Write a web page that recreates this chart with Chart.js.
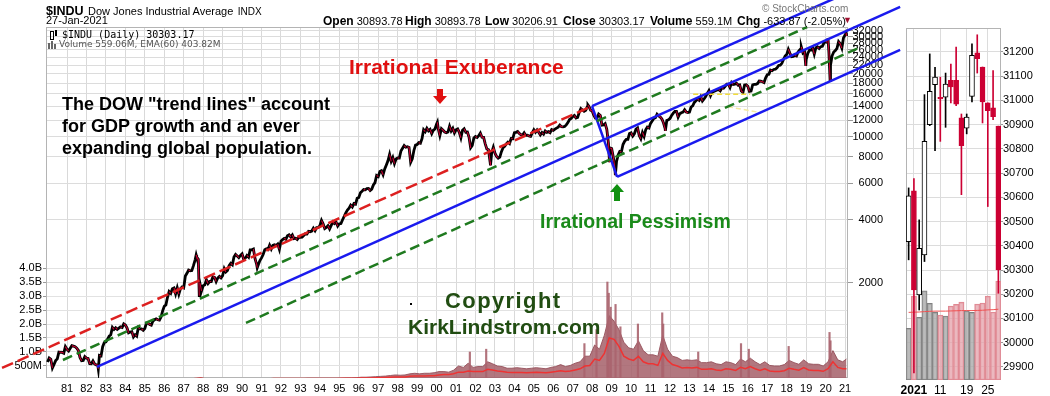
<!DOCTYPE html>
<html>
<head>
<meta charset="utf-8">
<script src="https://cdn.jsdelivr.net/npm/chart.js@4.4.0/dist/chart.umd.min.js"></script>
<style>
  body { margin: 0; background: #fff; font-family: "Liberation Sans", Arial, sans-serif; }
  #wrap { position: relative; width: 1050px; height: 396px; overflow: hidden; }
  canvas { position: absolute; top: 0; }
  #mainChart { left: 0; }
  #panelChart { left: 900px; }
  .t { position: absolute; white-space: nowrap; line-height: 1; }
  .q { position: absolute; white-space: nowrap; line-height: 1; top: 15px; font-size: 11px; }
  .q b { font-size: 12px; }
  .ann { font-weight: bold; }
  .arrow { position: absolute; }
</style>
</head>
<body>
<div id="wrap">
  <canvas id="mainChart" width="905" height="396"></canvas>
  <canvas id="panelChart" width="150" height="396"></canvas>

  <!-- header -->
  <div class="t" style="left:46px;top:2px;">
    <span style="font-weight:bold;font-size:12.5px;">$INDU</span>
    <span style="font-size:11px;">Dow Jones Industrial Average</span>
    <span style="font-size:10px;">INDX</span>
  </div>
  <div class="t" style="left:46px;top:15px;font-size:11px;">27-Jan-2021</div>
  <div class="q" style="left:323px;"><b>Open</b> 30893.78</div>
  <div class="q" style="left:405px;"><b>High</b> 30893.78</div>
  <div class="q" style="left:485px;"><b>Low</b> 30206.91</div>
  <div class="q" style="left:563px;"><b>Close</b> 30303.17</div>
  <div class="q" style="left:650px;"><b>Volume</b> 559.1M</div>
  <div class="q" style="left:737px;"><b>Chg</b> -633.87 (-2.05%)</div>
  <div class="t" style="left:843px;top:16px;font-size:9px;color:#a01030;">&#9660;</div>
  <div class="t" style="left:762px;top:4px;font-size:10px;color:#777;">&copy; StockCharts.com</div>

  <!-- plot labels with small icons -->
  <div class="arrow" style="left:50px;top:31px;width:2px;height:7px;border:1px solid #000;"></div>
  <div class="arrow" style="left:55px;top:30px;width:2px;height:6px;background:#000;"></div>
  <div class="arrow" style="left:48px;top:43px;width:2px;height:6px;background:#666;"></div>
  <div class="arrow" style="left:51px;top:41px;width:2px;height:8px;background:#666;"></div>
  <div class="arrow" style="left:54px;top:44px;width:2px;height:5px;background:#666;"></div>
  <div class="t" style="left:62px;top:30px;font-size:10px;font-family:'DejaVu Sans Mono',monospace;">$INDU (Daily) 30303.17</div>
  <div class="t" style="left:59px;top:40px;font-size:9px;font-family:'DejaVu Sans',sans-serif;color:#555;">Volume 559.06M, EMA(60) 403.82M</div>

  <!-- annotations -->
  <div class="t ann" style="left:349px;top:56px;font-size:21px;color:#e01010;">Irrational Exuberance</div>
  <div class="t ann" style="left:62px;top:93px;font-size:18px;line-height:22px;color:#000;">The DOW "trend lines" account<br>for GDP growth and an ever<br>expanding global population.</div>
  <div class="t ann" style="left:540px;top:212px;font-size:19.5px;color:#1a8a1a;">Irrational Pessimism</div>
  <div class="t ann" style="left:445px;top:290px;font-size:22px;letter-spacing:1.4px;color:#214d12;">Copyright</div>
  <div class="t ann" style="left:408px;top:316px;font-size:21px;color:#214d12;">KirkLindstrom.com</div>
  <div class="arrow" style="left:410px;top:303px;width:2px;height:2px;background:#000;"></div>

  <!-- arrows -->
  <div class="arrow" style="left:437px;top:89px;width:6px;height:8px;background:#e01010;"></div>
  <div class="arrow" style="left:433px;top:96px;width:0;height:0;border-left:7px solid transparent;border-right:7px solid transparent;border-top:8px solid #e01010;"></div>
  <div class="arrow" style="left:610px;top:184px;width:0;height:0;border-left:7px solid transparent;border-right:7px solid transparent;border-bottom:8px solid #109010;"></div>
  <div class="arrow" style="left:614px;top:192px;width:6px;height:9px;background:#109010;"></div>
</div>

<script>
// ---- main chart data ----
const priceStartYear = 1980;
const dowFirstClose = 839; // close at start of 1980
// month-end closes, Jan 1980 .. Dec 2020
const dowMonthEnd = [
  876, 863, 786, 817, 851, 868, 935, 933, 932, 924, 993, 964,            // 1980
  947, 975, 1004, 998, 992, 977, 952, 881, 850, 853, 889, 875,           // 1981
  871, 824, 823, 848, 820, 812, 809, 901, 896, 992, 1039, 1047,          // 1982
  1076, 1113, 1130, 1226, 1200, 1222, 1199, 1216, 1233, 1225, 1276, 1259, // 1983
  1221, 1155, 1165, 1171, 1105, 1132, 1115, 1224, 1207, 1207, 1189, 1212, // 1984
  1287, 1284, 1267, 1258, 1315, 1335, 1347, 1334, 1329, 1374, 1472, 1547, // 1985
  1571, 1709, 1819, 1784, 1877, 1893, 1775, 1898, 1768, 1878, 1914, 1896, // 1986
  2158, 2224, 2305, 2286, 2292, 2419, 2572, 2663, 2596, 1994, 1834, 1939, // 1987
  1958, 2072, 1988, 2032, 2031, 2142, 2129, 2032, 2113, 2149, 2115, 2169, // 1988
  2342, 2258, 2294, 2419, 2480, 2440, 2661, 2737, 2693, 2645, 2706, 2753, // 1989
  2591, 2627, 2707, 2657, 2877, 2881, 2905, 2614, 2452, 2442, 2560, 2634, // 1990
  2736, 2882, 2914, 2888, 3028, 2907, 3025, 3044, 3017, 3069, 2895, 3169, // 1991
  3223, 3268, 3236, 3359, 3397, 3319, 3394, 3257, 3272, 3226, 3305, 3301, // 1992
  3310, 3371, 3435, 3428, 3527, 3516, 3540, 3651, 3555, 3681, 3684, 3754, // 1993
  3978, 3832, 3636, 3682, 3758, 3625, 3765, 3913, 3843, 3908, 3739, 3834, // 1994
  3844, 4011, 4158, 4321, 4465, 4556, 4708, 4611, 4789, 4755, 5074, 5117, // 1995
  5395, 5486, 5587, 5569, 5643, 5655, 5529, 5616, 5882, 6029, 6522, 6448, // 1996
  6813, 6878, 6583, 7009, 7331, 7673, 8223, 7622, 7945, 7442, 7823, 7908, // 1997
  7907, 8546, 8800, 9063, 8900, 8952, 8883, 7539, 7843, 8592, 9117, 9181, // 1998
  9359, 9307, 9786, 10789, 10560, 10971, 10655, 10829, 10337, 10730, 10878, 11497, // 1999
  10941, 10128, 10922, 10734, 10522, 10448, 10522, 11215, 10651, 10971, 10414, 10788, // 2000
  10887, 10495, 9879, 10735, 10912, 10502, 10523, 9950, 8848, 9075, 9852, 10022, // 2001
  9920, 10106, 10404, 9946, 9925, 9243, 8737, 8664, 7592, 8397, 8896, 8342, // 2002
  8054, 7891, 7992, 8480, 8850, 8985, 9234, 9416, 9275, 9801, 9782, 10454, // 2003
  10488, 10584, 10358, 10226, 10188, 10435, 10140, 10174, 10080, 10027, 10428, 10783, // 2004
  10490, 10766, 10504, 10193, 10467, 10275, 10641, 10482, 10569, 10440, 10806, 10718, // 2005
  10865, 10993, 11109, 11367, 11168, 11150, 11186, 11381, 11679, 12081, 12222, 12463, // 2006
  12622, 12269, 12354, 13063, 13628, 13409, 13212, 13358, 13896, 13930, 13372, 13265, // 2007
  12650, 12266, 12263, 12820, 12638, 11350, 11378, 11544, 10851, 9325, 8829, 8776, // 2008
  8001, 7063, 7609, 8168, 8500, 8447, 9172, 9496, 9712, 9713, 10345, 10428, // 2009
  10067, 10325, 10857, 11009, 10137, 9774, 10466, 10015, 10788, 11118, 11006, 11578, // 2010
  11892, 12226, 12320, 12811, 12570, 12414, 12143, 11614, 10913, 11955, 12046, 12218, // 2011
  12633, 12952, 13212, 13214, 12393, 12880, 13009, 13091, 13437, 13096, 13026, 13104, // 2012
  13861, 14054, 14579, 14840, 15116, 14910, 15500, 14810, 15130, 15546, 16086, 16577, // 2013
  15699, 16322, 16458, 16581, 16717, 16827, 16563, 17098, 17043, 17391, 17828, 17823, // 2014
  17165, 18133, 17776, 17841, 18011, 17620, 17690, 16528, 16285, 17664, 17720, 17425, // 2015
  16466, 16517, 17685, 17774, 17787, 17930, 18432, 18401, 18308, 18142, 19124, 19763, // 2016
  19864, 20812, 20663, 20941, 21009, 21350, 21891, 21948, 22405, 23377, 24272, 24719, // 2017
  26149, 25029, 24103, 24163, 24416, 24271, 25415, 25965, 26458, 25116, 25538, 23327, // 2018
  25000, 25916, 25929, 26593, 24815, 26600, 26864, 26403, 26917, 27046, 28051, 28538, // 2019
  28256, 25409, 21917, 24346, 25383, 25813, 26428, 28430, 27782, 26502, 29639, 30606  // 2020
];
// intra-month highs / lows visible on the chart
const dowExtremes = [
  [1982.61, 777], [1987.64, 2722], [1987.80, 1739], [1990.78, 2365],
  [2000.04, 11723], [2002.77, 7286], [2007.78, 14165], [2008.89, 7552],
  [2009.19, 6547], [2011.76, 10655], [2018.75, 26828], [2018.98, 21792],
  [2020.12, 29551], [2020.23, 18592], [2021.05, 31188]
];
const dowLast = [2021.07, 30303];

// quarterly volume (billions), 1980 Q1 .. 2021 Jan
const volumeQuarterly = [
  .02,.02,.02,.02, .02,.02,.02,.02, .02,.02,.03,.03, .03,.03,.03,.03, .03,.03,.03,.03,
  .03,.03,.03,.04, .04,.04,.04,.04, .05,.05,.05,.08, .04,.04,.04,.04, .04,.04,.04,.05,
  .04,.04,.05,.05, .05,.05,.05,.05, .05,.05,.05,.05, .05,.06,.06,.06, .06,.06,.06,.06,
  .06,.07,.07,.08, .10,.10,.11,.12, .13,.14,.16,.18, .17,.18,.22,.24, .22,.24,.24,.26,
  .30,.30,.28,.35, .50,.45,.60,.45, .48,.48,.65,.58, .50,.48,.42,.42, .44,.42,.40,.42,
  .44,.42,.40,.45, .48,.55,.48,.52, .60,.65,.85,.85, 1.25,1.10,1.60,2.30, 2.10,1.80,1.35,1.15,
  1.10,1.40,1.05,.90, .90,.85,1.60,1.10, .85,.80,.70,.72, .70,.72,.62,.62, .65,.58,.55,.65,
  .62,.55,.75,.65, .78,.65,.55,.65, .52,.50,.50,.55, .70,.62,.56,.72, .58,.56,.56,.50,
  .65,1.05,.72,.65, .75
];
const volumeEma = [
  .02,.02,.02,.02, .02,.02,.02,.02, .02,.02,.02,.03, .03,.03,.03,.03, .03,.03,.03,.03,
  .03,.03,.03,.03, .04,.04,.04,.04, .04,.04,.05,.06, .04,.04,.04,.04, .04,.04,.04,.04,
  .04,.04,.04,.04, .04,.04,.05,.05, .05,.05,.05,.05, .05,.05,.05,.05, .05,.05,.05,.05,
  .06,.06,.06,.06, .07,.07,.07,.08, .08,.09,.10,.11, .11,.11,.13,.14, .14,.14,.15,.15,
  .18,.20,.20,.22, .28,.28,.32,.30, .30,.30,.38,.36, .32,.30,.28,.27, .27,.27,.26,.27,
  .28,.27,.26,.28, .30,.33,.30,.32, .36,.40,.50,.52, .75,.70,.95,1.50, 1.45,1.20,.85,.75,
  .70,.85,.65,.58, .58,.52,.95,.70, .55,.50,.43,.45, .43,.45,.38,.38, .40,.36,.34,.40,
  .38,.34,.45,.40, .48,.40,.34,.40, .32,.30,.30,.33, .42,.38,.35,.44, .36,.34,.34,.31,
  .40,.65,.45,.40, .40
];
// single heavy-volume days that stick out above the volume area
const volumeSpikes = [
  [2001.71, 1.0], [2002.55, 1.1], [2007.60, 1.3], [2008.22, 1.8], [2008.78, 3.5],
  [2008.85, 3.1], [2008.95, 2.6], [2009.20, 2.7], [2009.45, 1.9], [2010.35, 2.0],
  [2011.60, 2.4], [2011.65, 2.0], [2013.45, 1.0], [2015.65, 1.3], [2016.05, 1.1],
  [2018.10, 1.2], [2020.20, 1.7], [2020.25, 1.4]
];

const yearTickLabels = ['81','82','83','84','85','86','87','88','89','90','91','92','93','94','95',
  '96','97','98','99','00','01','02','03','04','05','06','07','08','09','10','11','12','13','14',
  '15','16','17','18','19','20','21'];
const priceTicks = [2000, 4000, 6000, 8000, 10000, 12000, 14000, 16000, 18000, 20000,
  22000, 24000, 26000, 28000, 30000, 32000];
const volumeTicks = [0.5, 1, 1.5, 2, 2.5, 3, 3.5, 4];
const volumeTickLabels = ['500M', '1.0B', '1.5B', '2.0B', '2.5B', '3.0B', '3.5B', '4.0B'];

// trend lines drawn on the chart: [startYear, startValue, endYear, endValue]
const redTrend = [1977.66, 785, 2007.99, 14000];
const greenTrendA = [1980.79, 857, 2019.05, 33400];
const greenTrendB = [1990.20, 1288, 2021.77, 26730];
const blueLong = [1982.54, 794, 2023.83, 41740];
const blueTop = [2007.99, 14000, 2020.74, 47000];
const blueLow = [2009.28, 6424, 2023.83, 25960];
const blueCrash = [2007.99, 14000, 2009.28, 6424];
const yellowTop = [2013.19, 15960, 2016.12, 15960];
const yellowLow = [2014.98, 13900, 2016.48, 13120];

// ---- Jan 2021 daily panel ----
const panelDays = ['Dec 31','Jan 4','Jan 5','Jan 6','Jan 7','Jan 8','Jan 11','Jan 12','Jan 13',
  'Jan 14','Jan 15','Jan 19','Jan 20','Jan 21','Jan 22','Jan 25','Jan 26','Jan 27'];
const panelTickLabels = ['', '2021', '', '', '', '', '11', '', '', '', '', '19', '', '', '', '25', '', ''];
const panelOpen  = [30417, 30627, 30197, 30362, 30900, 31065, 31013, 31013, 31083, 31083, 30928, 30886, 31017, 31196, 31138, 30990, 30969, 30894];
const panelHigh  = [30639, 30677, 30507, 31024, 31192, 31137, 31096, 31113, 31150, 31220, 30944, 30944, 31234, 31271, 31138, 30990, 31123, 30894];
const panelLow   = [30342, 29875, 30135, 30335, 30896, 30793, 30831, 30889, 30990, 30978, 30611, 30862, 30994, 31113, 30907, 30562, 30921, 30204];
const panelClose = [30606, 30218, 30390, 30831, 31038, 31096, 31006, 31068, 31056, 30985, 30813, 30931, 31186, 31172, 30994, 30958, 30933, 30300];
const panelPrevClose = 30410;
const panelVolume = [292, 474, 354, 503, 433, 382, 367, 361, 418, 427, 440, 390, 382, 429, 435, 474, 384, 559];
const panelVolumeEma = [382, 383, 384, 386, 388, 389, 389, 389, 390, 391, 392, 392, 392, 393, 394, 396, 397, 400];
const panelPriceTicks = [29900, 30000, 30100, 30200, 30300, 30400, 30500, 30600, 30700, 30800, 30900, 31000, 31100, 31200];

const FONT = "'Liberation Sans', Arial, sans-serif";
const RED = '#cc0033';

// border round the plot area
const framePlugin = {
  id: 'frame',
  beforeDatasetsDraw(chart) {
    const a = chart.chartArea;
    const ctx = chart.ctx;
    ctx.save();
    ctx.strokeStyle = '#b4b4b4';
    ctx.lineWidth = 1;
    ctx.strokeRect(Math.round(a.left) + 0.5, Math.round(a.top) + 0.5,
      Math.round(a.right - a.left) - 1, Math.round(a.bottom - a.top) - 1);
    ctx.restore();
  }
};

function linePts(t) {
  return [{ x: t[0], y: t[1] }, { x: t[2], y: t[3] }];
}

function trendSet(t, color, dash, width) {
  return {
    type: 'line', data: linePts(t), yAxisID: 'yPrice', borderColor: color,
    borderWidth: width || 2.5, borderDash: dash || [], pointRadius: 0, clip: false, order: 1
  };
}

document.addEventListener("DOMContentLoaded", function () {
    // price points: month ends plus the visible extremes
    const pricePts = [{ x: priceStartYear, y: dowFirstClose }];
    dowMonthEnd.forEach((v, i) => pricePts.push({ x: priceStartYear + (i + 1) / 12, y: v }));
    dowExtremes.forEach(p => pricePts.push({ x: p[0], y: p[1] }));
    pricePts.push({ x: dowLast[0], y: dowLast[1] });
    pricePts.sort((a, b) => a.x - b.x);

    const volPts = volumeQuarterly.map((v, i) => ({ x: Math.min(priceStartYear + (i + 0.5) / 4, 2021.07), y: v }));
    const emaPts = volumeEma.map((v, i) => ({ x: Math.min(priceStartYear + (i + 0.5) / 4, 2021.07), y: v }));
    const spikePts = volumeSpikes.map(p => ({ x: p[0], y: p[1] }));

    new Chart(document.getElementById("mainChart").getContext("2d"), {
        data: {
            datasets: [
                { type: 'line', data: volPts, yAxisID: 'yVol', borderColor: 'rgba(150,80,90,0.9)', borderWidth: 1,
                  backgroundColor: 'rgba(165,95,105,0.85)', fill: 'start', pointRadius: 0, order: 10 },
                { type: 'bar', data: spikePts, yAxisID: 'yVol', backgroundColor: 'rgba(170,100,110,0.9)',
                  barThickness: 1.5, order: 9 },
                { type: 'line', data: emaPts, yAxisID: 'yVol', borderColor: '#ee3333', borderWidth: 1.5,
                  pointRadius: 0, order: 8 },
                { type: 'line', data: pricePts, yAxisID: 'yPrice', borderColor: '#000', borderWidth: 2.8,
                  pointRadius: 0, order: 5 },
                { type: 'line', data: pricePts, yAxisID: 'yPrice', borderWidth: 1.1, pointRadius: 0, order: 4,
                  segment: { borderColor: c => c.p1.parsed.y < c.p0.parsed.y ? RED : 'rgba(0,0,0,0)' } },
                trendSet(redTrend, '#dd2020', [12, 5]),
                trendSet(greenTrendA, '#1f7a1f', [10, 5]),
                trendSet(greenTrendB, '#1f7a1f', [10, 5]),
                trendSet(blueLong, '#1a1aee'),
                trendSet(blueTop, '#1a1aee'),
                trendSet(blueLow, '#1a1aee'),
                trendSet(blueCrash, '#1a1aee'),
                trendSet(yellowTop, '#f2dc3c', [5, 3], 1.5),
                trendSet(yellowLow, '#f3eaa0', [5, 3], 1.5)
            ]
        },
        options: {
            responsive: false,
            animation: false,
            devicePixelRatio: 1,
            layout: { padding: { top: 27, right: 22 } },
            plugins: { legend: { display: false }, tooltip: { enabled: false } },
            scales: {
                x: {
                    type: 'linear', min: 1979.92, max: 2021.15, offset: false,
                    afterFit: s => { s.height = 18; },
                    afterBuildTicks: s => { s.ticks = yearTickLabels.map((l, i) => ({ value: 1981 + i })); },
                    ticks: { callback: (v, i) => yearTickLabels[i], autoSkip: false, maxRotation: 0,
                             padding: 4, color: '#000', font: { family: FONT, size: 11 } },
                    grid: { color: '#d9d9d9', drawTicks: false, offset: false },
                    border: { display: false }
                },
                yVol: {
                    type: 'linear', position: 'left', min: 0.071, max: 12.61,
                    afterFit: s => { s.width = 46; },
                    afterBuildTicks: s => { s.ticks = volumeTicks.map(v => ({ value: v })); },
                    ticks: { callback: (v, i) => volumeTickLabels[i], autoSkip: false, padding: 1,
                             color: '#000', font: { family: FONT, size: 11 } },
                    grid: { color: '#e2e2e2', tickLength: 3, tickColor: '#999' },
                    border: { display: false }
                },
                yPrice: {
                    type: 'logarithmic', position: 'right', min: 703, max: 33420,
                    afterFit: s => { s.width = 35; },
                    afterBuildTicks: s => { s.ticks = priceTicks.map(v => ({ value: v })); },
                    ticks: { callback: v => String(v), autoSkip: false, padding: 0, crossAlign: 'far',
                             color: '#000', font: { family: FONT, size: 11 } },
                    grid: { color: '#dcdcdc', tickLength: 5, tickColor: '#999' },
                    border: { display: false }
                }
            }
        },
        plugins: [framePlugin]
    });

    // Jan 2021 candles
    const candleColor = panelClose.map((c, i) => c >= (i ? panelClose[i - 1] : panelPrevClose) ? '#000' : RED);
    const bodyFill = panelClose.map((c, i) => c > panelOpen[i] ? '#fff' : candleColor[i]);
    const volColor = candleColor.map(c => c === RED ? 'rgba(228,160,170,0.75)' : 'rgba(170,170,170,0.8)');
    const volBorder = candleColor.map(c => c === RED ? '#e08892' : '#808080');

    new Chart(document.getElementById("panelChart").getContext("2d"), {
        data: {
            labels: panelDays,
            datasets: [
                { type: 'bar', data: panelVolume, yAxisID: 'yVolP', backgroundColor: volColor, borderColor: volBorder,
                  borderWidth: 1, borderSkipped: false, barPercentage: 1, categoryPercentage: 1, order: 10 },
                { type: 'line', data: panelVolumeEma, yAxisID: 'yVolP', borderColor: '#f05050', borderWidth: 1,
                  pointRadius: 0, order: 9 },
                { type: 'bar', data: panelLow.map((l, i) => [l, panelHigh[i]]), yAxisID: 'yP', grouped: false,
                  backgroundColor: candleColor, barThickness: 1, borderWidth: 0, order: 2 },
                { type: 'bar', data: panelOpen.map((o, i) => [o, panelClose[i]]), yAxisID: 'yP', grouped: false,
                  backgroundColor: bodyFill, borderColor: candleColor, borderWidth: 1, borderSkipped: false,
                  barThickness: 5, order: 1 }
            ]
        },
        options: {
            responsive: false,
            animation: false,
            devicePixelRatio: 1,
            layout: { padding: { top: 28, left: 6 } },
            plugins: { legend: { display: false }, tooltip: { enabled: false } },
            scales: {
                x: {
                    type: 'category', offset: true,
                    afterFit: s => { s.height = 16; },
                    ticks: { callback: (v, i) => panelTickLabels[i], autoSkip: false, maxRotation: 0, padding: 3,
                             color: '#000',
                             font: c => ({ family: FONT, size: 12, weight: panelTickLabels[c.index] === '2021' ? 'bold' : 'normal' }) },
                    grid: { offset: false, drawTicks: false,
                            color: c => panelTickLabels[c.index] ? '#dcdcdc' : 'rgba(0,0,0,0)' },
                    border: { display: false }
                },
                yVolP: { display: false, min: 0, max: 1988 },
                yP: {
                    type: 'linear', position: 'right', min: 29846, max: 31299,
                    afterFit: s => { s.width = 49; },
                    afterBuildTicks: s => { s.ticks = panelPriceTicks.map(v => ({ value: v })); },
                    ticks: { callback: v => String(v), autoSkip: false, padding: 0,
                             color: '#000', font: { family: FONT, size: 11 } },
                    grid: { color: '#dcdcdc', tickLength: 2, tickColor: '#999' },
                    border: { display: false }
                }
            }
        },
        plugins: [framePlugin]
    });
});
</script>
</body>
</html>
